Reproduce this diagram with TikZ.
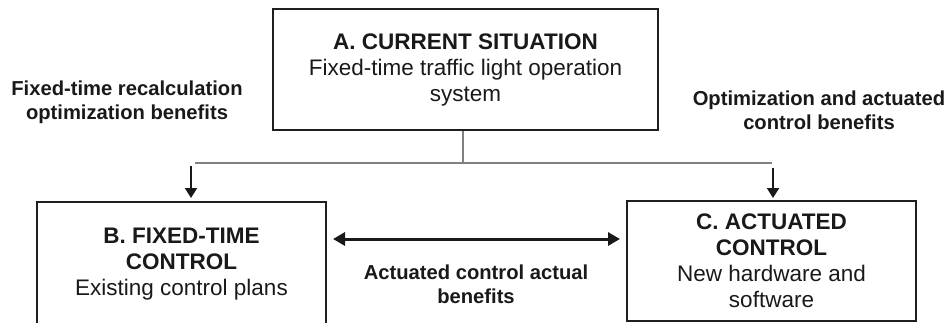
\documentclass[tikz,border=0pt]{standalone}
\usepackage{fontspec}
\setmainfont{Liberation Sans}
\usetikzlibrary{arrows.meta}
\begin{document}
\begin{tikzpicture}[x=1pt,y=-1pt,
  box/.style={draw=black!88,line width=2pt,align=center,inner sep=0pt,
    font=\fontsize{22.5}{26}\selectfont,text=black!90},
  lbl/.style={align=center,inner sep=0pt,font=\bfseries\fontsize{20.2}{24}\selectfont,text=black!90},
  feed/.style={draw=black!50,line width=1.2pt},
  down/.style={draw=black!90,line width=2pt,-{Triangle[length=10pt,width=12pt]}},
  both/.style={draw=black!90,line width=3pt,{Triangle[length=12pt,width=13pt]}-{Triangle[length=12pt,width=13pt]}}]
\useasboundingbox (0,0) rectangle (949,322);
\node[box,minimum width=385pt,minimum height=121pt] (A) at (465.5,69.5)
  {\textbf{A. CURRENT SITUATION}\\Fixed-time traffic light operation\\system};
\node[box,minimum width=289pt,minimum height=124pt] (B) at (181.5,264)
  {\textbf{B. FIXED-TIME}\\\textbf{CONTROL}\\Existing control plans};
\node[box,minimum width=289pt,minimum height=120pt] (C) at (771.5,261)
  {\textbf{C. ACTUATED}\\\textbf{CONTROL}\\New hardware and\\software};
\node[lbl] (L1) at (127,102) {Fixed-time recalculation\\optimization benefits};
\node[lbl] (L2) at (819,110) {Optimization and actuated\\control benefits};
\node[lbl] (L3) at (476,284) {Actuated control actual\\benefits};
\coordinate (J) at (463,163);
\coordinate (JL) at (195,163);
\coordinate (JR) at (772,163);
\draw[feed] (A.south -| J) -- (J);
\draw[feed] (JL) -- (JR);
\coordinate (BL) at (191,166);
\coordinate (BT) at (191,198);
\coordinate (CR) at (773,168);
\coordinate (CT) at (773,198);
\draw[down] (BL) -- (BT);
\draw[down] (CR) -- (CT);
\coordinate (DL) at (333,239);
\coordinate (DR) at (620,239);
\draw[both] (DL) -- (DR);
\end{tikzpicture}
\end{document}
